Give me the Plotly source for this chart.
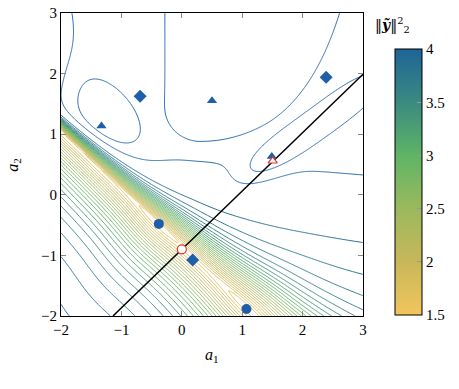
import numpy as np
import plotly.graph_objects as go

# ---------------- values ----------------
circle_a1 = [-0.38, 1.07]
circle_a2 = [-0.48, -1.885]
diamond_a1 = [-0.69, 2.39, 0.18]
diamond_a2 = [1.625, 1.94, -1.075]
triangle_a1 = [-1.33, 0.50, 1.49]
triangle_a2 = [1.135, 1.553, 0.63]
red_circle_a1 = [0.0]
red_circle_a2 = [-0.90]
red_triangle_a1 = [1.505]
red_triangle_a2 = [0.558]
line_a1 = [-1.14, 3.0]
line_a2 = [-2.0, 1.99]

axis_ticks = [-2, -1, 0, 1, 2, 3]
cbar_ticks = [1.5, 2, 2.5, 3, 3.5, 4]
cbar_labels = ["1.5", "2", "2.5", "3", "3.5", "4"]

# landscape model (valley + plateau), estimated from the contour picture
valley_point = (-0.38, -0.48)
valley_slope = -0.95
floor_base = 1.695
floor_min_pos = [0.0, 2.03]
floor_min_depth = [0.19, 0.16]
floor_min_width = [0.55, 0.6]
plateau_level = 4.07
# (c1, c2, sigma_major, sigma_minor, angle_deg, amplitude, power_major)
bumps = [
    (-1.25, 1.28, 0.85, 0.50, -50.5, 0.07, 2),
    (2.10, 1.07, 1.50, 0.27, 36.4, 0.08, 4),
    (-2.40, 2.40, 1.20, 0.50, 90.0, -0.10, 2),
]
u_region_amp = 0.064
ramp_coef = 0.13

levels_low = (1.5, 3.9, 0.1)
levels_high = (4.05, 4.1, 0.05)

cmap = [(0.0, "#f2c55c"), (0.2, "#c8b75a"), (0.4, "#9bb95d"),
        (0.6, "#5fb466"), (0.8, "#3a8a80"), (1.0, "#1e6597")]
high_color = "#2a6cb0"
blue = "#1f5ea8"
red = "#e2372b"
FONT = "Liberation Serif, DejaVu Serif, serif"
TFONT = "DejaVu Serif"


def sig(x):
    return 1.0 / (1.0 + np.exp(-x))


def field(A1, A2):
    nn = np.hypot(1.0, valley_slope)
    dx0 = A1 - valley_point[0]
    dy0 = A2 - valley_point[1]
    t = (-valley_slope * dx0 + dy0) / nn
    s = (dx0 + valley_slope * dy0) / nn
    F = np.full_like(A1, floor_base)
    for p, d, w in zip(floor_min_pos, floor_min_depth, floor_min_width):
        F = F - d * np.exp(-((s - p) / w) ** 2)
    wu = 0.4 * np.exp(0.45 * np.minimum(s, 0)) + 0.18 * np.maximum(s, 0)
    wl = 0.8 * np.exp(0.06 * s)
    u_up = np.sqrt((t / wu) ** 2 + 0.0025) - 0.05
    u_lo = np.sqrt((t / wl) ** 2 + 0.0025) - 0.05
    h = np.where(t > 0, u_up / (1 + u_up ** 4) ** 0.25, u_lo / np.sqrt(1 + u_lo ** 2))
    R = np.full_like(A1, plateau_level)
    for c1, c2, sa, sb, ang, amp, pw in bumps:
        th = np.deg2rad(ang)
        uu = (A1 - c1) * np.cos(th) + (A2 - c2) * np.sin(th)
        vv = -(A1 - c1) * np.sin(th) + (A2 - c2) * np.cos(th)
        R = R + amp * np.exp(-np.abs(uu / sa) ** pw - (vv / sb) ** 2)
    d1 = A1 - 0.3
    bcurve = np.where(d1 > 0, 0.87 + 0.26 * d1 ** 2 + 0.0049 * d1 ** 6, 0.87 + 1.0 * d1 ** 2)
    R = R + u_region_amp * sig((A1 + 0.27) / 0.08) * sig((A2 - bcurve) / 0.08)
    q = A2 - 0.62 + 0.08 * A1
    ramp = 0.15 * np.log1p(np.exp(-q / 0.15))
    R = R - ramp_coef * ramp * sig((t - 0.2) / 0.3)
    return F + (R - F) * h


a1 = np.linspace(-2, 3, 301)
a2 = np.linspace(-2, 3, 301)
A1, A2 = np.meshgrid(a1, a2)
Z = field(A1, A2)


# ---------------- colours ----------------
def hex2rgb(hx):
    hx = hx.lstrip("#")
    return np.array([int(hx[i:i + 2], 16) for i in (0, 2, 4)], float)


def cmap_at(x):
    x = min(max(x, 0.0), 1.0)
    for (p0, c0), (p1, c1) in zip(cmap[:-1], cmap[1:]):
        if x <= p1:
            f = (x - p0) / (p1 - p0)
            c = hex2rgb(c0) * (1 - f) + hex2rgb(c1) * f
            return "rgb(%d,%d,%d)" % tuple(np.round(c))
    return cmap[-1][1]


cmin, cmax = 1.5, 4.0
lo_start, lo_end, lo_size = levels_low
cs_lines = []
for p in np.linspace(0, 1, 25):
    val = lo_start + p * (lo_end - lo_start)
    cs_lines.append([float(p), cmap_at((val - cmin) / (cmax - cmin))])
cs_bar = [[p, c] for p, c in cmap]

fig = go.Figure()
fig.add_trace(go.Contour(
    x=a1, y=a2, z=Z, autocontour=False,
    contours=dict(coloring="lines", start=lo_start, end=lo_end, size=lo_size),
    colorscale=cs_lines, showscale=False, line=dict(width=1), hoverinfo="skip"))
fig.add_trace(go.Contour(
    x=a1, y=a2, z=Z, autocontour=False,
    contours=dict(coloring="lines", start=levels_high[0], end=levels_high[1], size=levels_high[2]),
    colorscale=[[0, high_color], [1, high_color]], showscale=False,
    line=dict(width=1), hoverinfo="skip"))

fig.add_trace(go.Scatter(x=line_a1, y=line_a2, mode="lines",
                         line=dict(color="black", width=1.5), hoverinfo="skip"))
fig.add_trace(go.Scatter(x=circle_a1, y=circle_a2, mode="markers",
                         marker=dict(symbol="circle", size=10, color=blue)))
fig.add_trace(go.Scatter(x=diamond_a1, y=diamond_a2, mode="markers",
                         marker=dict(symbol="diamond", size=10, color=blue)))
fig.add_trace(go.Scatter(x=triangle_a1, y=triangle_a2, mode="markers",
                         marker=dict(symbol="triangle-up", size=9, color=blue)))
fig.add_trace(go.Scatter(x=red_circle_a1, y=red_circle_a2, mode="markers",
                         marker=dict(symbol="circle", size=9, color="white",
                                     line=dict(color=red, width=1.2))))
fig.add_trace(go.Scatter(x=red_triangle_a1, y=red_triangle_a2, mode="markers",
                         marker=dict(symbol="triangle-up", size=8, color="white",
                                     line=dict(color=red, width=1.2))))

# colour bar
fig.add_trace(go.Scatter(
    x=[None], y=[None], mode="markers", hoverinfo="skip",
    marker=dict(color=[cmin], cmin=cmin, cmax=cmax, colorscale=cs_bar, showscale=True,
                colorbar=dict(x=1.106, xanchor="left", y=0.442, yanchor="middle",
                              len=266, lenmode="pixels", thickness=27, thicknessmode="pixels",
                              xpad=0, ypad=0, outlinewidth=1, outlinecolor="black",
                              tickvals=cbar_ticks, ticktext=cbar_labels,
                              ticks="inside", ticklen=5, tickcolor="#999",
                              tickfont=dict(size=15, family=FONT, color="black")))))

axis_common = dict(range=[-2, 3], showgrid=False, zeroline=False, showline=True,
                   linecolor="black", linewidth=1, mirror="ticks", ticks="inside",
                   ticklen=5, tickcolor="#888", tickvals=axis_ticks,
                   tickfont=dict(size=15, family=FONT, color="black"))
title_txt = "‖<b><i>ỹ</i></b>‖<sup>2</sup><sub>2</sub>"
fig.update_layout(
    width=459, height=389, margin=dict(l=61, r=96, t=13, b=73, autoexpand=False),
    paper_bgcolor="white", plot_bgcolor="white", showlegend=False,
    xaxis=dict(**axis_common), yaxis=dict(**axis_common),
    font=dict(family=FONT, color="black"),
    annotations=[
        dict(text="<i>a</i><sub>1</sub>", x=0.5, y=-0.13, xref="paper", yref="paper",
             showarrow=False, font=dict(size=16), yanchor="middle"),
        dict(text="<i>a</i><sub>2</sub>", x=-0.158, y=0.5, xref="paper", yref="paper",
             showarrow=False, font=dict(size=16), textangle=-90, xanchor="center"),
        dict(text=title_txt, x=1.162, y=0.96, xref="paper", yref="paper", showarrow=False,
             font=dict(size=14, family=TFONT, color="black"), yanchor="middle"),
        dict(text=title_txt, x=0.2, y=-0.231, xref="paper", yref="paper", showarrow=False,
             font=dict(size=14, family=TFONT, color="black"), yanchor="top"),
    ],
)
fig.write_html("out.html")
